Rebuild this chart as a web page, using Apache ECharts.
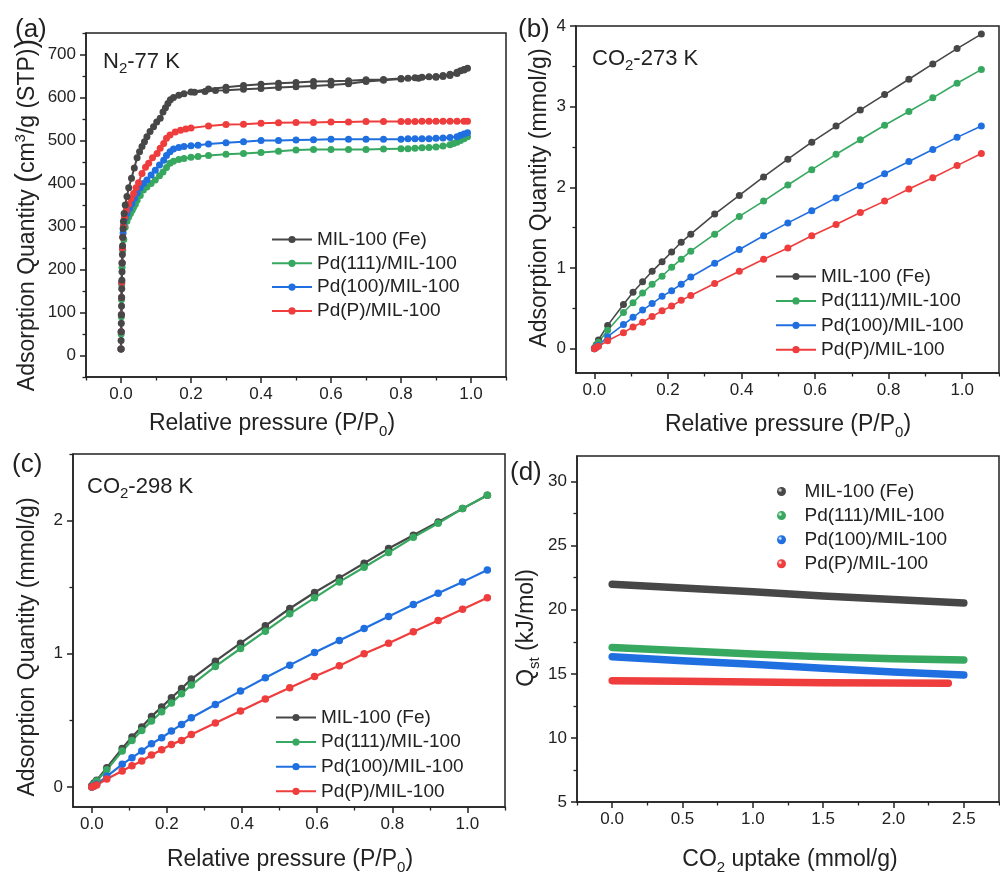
<!DOCTYPE html>
<html><head><meta charset="utf-8">
<script src="https://cdn.jsdelivr.net/npm/echarts@6/dist/echarts.min.js"></script>
<style>html,body{margin:0;padding:0;background:#fff}#c{width:1000px;height:875px}</style>
</head><body><div id="c"></div>
<script>
const names = ['MIL-100 (Fe)', 'Pd(111)/MIL-100', 'Pd(100)/MIL-100', 'Pd(P)/MIL-100'];
const colors = ['#474747', '#37a85f', '#1f6fe0', '#ef3c3c'];

// ---- (a) N2 77 K ----
const a_mil_ads_x = [0,0.0003,0.0006,0.0009,0.0012,0.0015,0.0018,0.0021,0.0025,0.003,0.0035,0.004,0.0045,0.005,0.006,0.007,0.009,0.012,0.017,0.022,0.03,0.038,0.046,0.053,0.06,0.067,0.074,0.083,0.093,0.102,0.112,0.12,0.127,0.134,0.141,0.15,0.165,0.18,0.2,0.25,0.3,0.35,0.4,0.45,0.5,0.55,0.6,0.65,0.7,0.75,0.8,0.82,0.84,0.86,0.88,0.9,0.92,0.94,0.96,0.97,0.98,0.99];
const a_mil_ads_y = [15,35,55,75,95,115,135,155,175,195,215,235,255,275,295,312,330,350,370,390,412,436,460,474,486,497,509,521,532,543,552,566,576,586,595,600,605,609,613,620,624,628,631,633,635,637,638,639,641,642,644,645,646,647,648,649,651,654,659,662,665,668];
const a_mil_des_x = [0.98,0.96,0.94,0.92,0.9,0.85,0.8,0.75,0.7,0.65,0.6,0.55,0.5,0.45,0.4,0.35,0.3,0.27,0.24,0.21];
const a_mil_des_y = [664,656,651,649,647,645,643,640,637,632,629,627,625,623,621,619,617,616,614,612];
const a_p111_x = [0,0.0005,0.001,0.0015,0.002,0.003,0.005,0.008,0.012,0.017,0.022,0.027,0.032,0.036,0.041,0.046,0.055,0.064,0.074,0.086,0.098,0.11,0.12,0.13,0.14,0.15,0.165,0.18,0.2,0.22,0.25,0.3,0.35,0.4,0.45,0.5,0.55,0.6,0.65,0.7,0.75,0.8,0.82,0.84,0.86,0.88,0.9,0.92,0.94,0.95,0.96,0.97,0.98,0.99];
const a_p111_y = [15,50,90,130,165,205,245,270,298,312,322,330,338,345,352,361,372,385,392,400,408,418,427,437,447,452,456,458,461,463,465,468,470,472,475,478,479,479,479,479,480,481,481,482,483,484,485,487,490,493,496,500,504,509];
const a_p100_x = [0,0.0005,0.001,0.0015,0.002,0.003,0.004,0.006,0.008,0.012,0.017,0.024,0.031,0.038,0.046,0.055,0.064,0.074,0.086,0.098,0.11,0.122,0.13,0.14,0.15,0.165,0.18,0.2,0.22,0.25,0.3,0.35,0.4,0.45,0.5,0.55,0.6,0.65,0.7,0.75,0.8,0.82,0.84,0.86,0.88,0.9,0.92,0.94,0.96,0.97,0.98,0.99];
const a_p100_y = [15,55,95,135,170,215,250,285,305,320,330,342,353,365,378,390,400,408,420,431,443,454,465,474,480,484,486,488,489,492,495,497,500,500,501,502,503,503,503,503,503,504,504,504,504,505,506,507,509,512,515,518];
const a_pp_x = [0,0.0005,0.001,0.0015,0.002,0.003,0.004,0.005,0.007,0.01,0.015,0.022,0.029,0.036,0.043,0.05,0.06,0.07,0.079,0.09,0.103,0.112,0.122,0.13,0.14,0.155,0.17,0.185,0.2,0.25,0.3,0.35,0.4,0.45,0.5,0.55,0.6,0.65,0.7,0.75,0.8,0.82,0.84,0.86,0.88,0.9,0.92,0.94,0.96,0.98,0.99];
const a_pp_y = [15,55,95,135,170,215,250,275,300,322,338,352,365,377,390,402,423,438,447,460,470,482,493,505,513,520,524,527,529,534,537,538,540,541,542,542,543,543,544,544,544,544,544,545,545,545,545,545,545,545,545];

// ---- (b) CO2 273 K ----
const b_x = [0,0.005,0.011,0.036,0.079,0.105,0.131,0.157,0.184,0.21,0.236,0.262,0.327,0.394,0.46,0.526,0.591,0.657,0.723,0.789,0.855,0.92,0.986,1.052];
const b_mil = [0.01,0.05,0.11,0.29,0.55,0.70,0.83,0.96,1.08,1.20,1.32,1.42,1.67,1.90,2.13,2.35,2.56,2.76,2.96,3.15,3.34,3.53,3.72,3.90];
const b_p111 = [0.0,0.04,0.08,0.23,0.45,0.57,0.69,0.80,0.90,1.01,1.11,1.21,1.42,1.64,1.83,2.03,2.22,2.41,2.59,2.77,2.94,3.11,3.29,3.46];
const b_p100 = [0.0,0.02,0.04,0.15,0.30,0.39,0.48,0.56,0.65,0.72,0.80,0.89,1.06,1.23,1.40,1.56,1.71,1.87,2.02,2.17,2.32,2.47,2.62,2.76];
const b_pp = [0.0,0.015,0.03,0.10,0.20,0.27,0.33,0.40,0.47,0.53,0.60,0.66,0.81,0.96,1.11,1.25,1.40,1.54,1.69,1.83,1.98,2.12,2.27,2.42];

// ---- (c) CO2 298 K ----
const c_x = [0,0.006,0.013,0.04,0.081,0.107,0.133,0.159,0.186,0.212,0.239,0.265,0.329,0.396,0.462,0.527,0.593,0.659,0.725,0.79,0.856,0.922,0.987,1.053];
const c_mil = [0.01,0.03,0.05,0.145,0.29,0.375,0.45,0.53,0.60,0.67,0.74,0.81,0.945,1.08,1.21,1.34,1.46,1.57,1.68,1.79,1.89,1.99,2.09,2.19];
const c_p111 = [0.0,0.02,0.045,0.13,0.27,0.35,0.425,0.495,0.565,0.63,0.70,0.765,0.905,1.04,1.17,1.30,1.42,1.54,1.65,1.76,1.875,1.98,2.09,2.19];
const c_p100 = [0.0,0.01,0.02,0.08,0.17,0.22,0.27,0.325,0.37,0.42,0.47,0.52,0.62,0.72,0.82,0.915,1.01,1.10,1.19,1.28,1.37,1.455,1.54,1.63];
const c_pp = [0.0,0.005,0.015,0.06,0.12,0.16,0.195,0.24,0.28,0.32,0.35,0.395,0.48,0.57,0.66,0.745,0.83,0.91,1.0,1.08,1.165,1.25,1.335,1.42];

// ---- (d) Qst ----
const d_x = [0,0.5,1.0,1.5,2.0,2.5];
const d_x_pp = [0,0.5,1.0,1.5,2.0,2.39];
const d_mil = [22.0,21.7,21.4,21.08,20.8,20.52];
const d_p111 = [17.06,16.8,16.54,16.34,16.18,16.08];
const d_p100 = [16.34,16.02,15.74,15.43,15.14,14.91];
const d_pp = [14.47,14.42,14.36,14.31,14.29,14.26];

// tick values
const a_xMaj = [0,0.2,0.4,0.6,0.8,1.0], a_xMin = [-0.1,0.1,0.3,0.5,0.7,0.9,1.1];
const a_yMaj = [0,100,200,300,400,500,600,700], a_yMin = [-50,50,150,250,350,450,550,650,750];
const bc_xMaj = [0,0.2,0.4,0.6,0.8,1.0], bc_xMin = [0.1,0.3,0.5,0.7,0.9,1.1];
const b_yMaj = [0,1,2,3,4], b_yMin = [0.5,1.5,2.5,3.5];
const c_yMaj = [0,1,2], c_yMin = [0.5,1.5,2.5];
const d_xMaj = [0,0.5,1.0,1.5,2.0,2.5], d_xMin = [-0.25,0.25,0.75,1.25,1.75,2.25,2.75];
const d_yMaj = [5,10,15,20,25,30], d_yMin = [7.5,12.5,17.5,22.5,27.5];

const FONT = '"Liberation Sans", Arial, sans-serif';
const INK = '#222';
const zip = (xs, ys) => xs.map((x, i) => [x, ys[i]]);
const f1 = v => (+v).toFixed(1);
const f0 = v => String(Math.round(v));

// three axes per dimension: [main with labels, major ticks, minor ticks]
function axisTriple(dim, grid, min, max, maj, mnr, fmt) {
  const base = () => ({
    type: 'value', gridIndex: grid, min: min, max: max,
    position: dim === 'x' ? 'bottom' : 'left',
    splitLine: {show: false}, splitArea: {show: false},
    axisLine: {show: false, onZero: false}
  });
  const main = Object.assign(base(), {
    axisLine: {show: true, onZero: false, lineStyle: {color: INK, width: 1.5}},
    axisTick: {show: false},
    axisLabel: {show: true, customValues: maj, formatter: fmt, color: INK, fontSize: 17,
      fontFamily: FONT, margin: dim === 'x' ? 9 : 10}
  });
  const major = Object.assign(base(), {
    axisTick: {show: true, customValues: maj, length: 6, lineStyle: {color: INK, width: 1.5}},
    axisLabel: {show: false}
  });
  const minor = Object.assign(base(), {
    axisTick: {show: true, customValues: mnr, length: 3.5, lineStyle: {color: INK, width: 1.3}},
    axisLabel: {show: false}
  });
  return [main, major, minor];
}

const grids = [
  {left: 86, top: 33, width: 420, height: 344},
  {left: 576, top: 26, width: 423, height: 347},
  {left: 73, top: 454, width: 432, height: 353},
  {left: 577, top: 456, width: 422, height: 346}
].map(g => Object.assign(g, {show: true, borderColor: INK, borderWidth: 1.5, backgroundColor: 'transparent', outerBoundsMode: 'none', containLabel: false}));

const xAxis = [].concat(
  axisTriple('x', 0, -0.1, 1.1, a_xMaj, a_xMin, f1),
  axisTriple('x', 1, -0.05, 1.1, bc_xMaj, bc_xMin, f1),
  axisTriple('x', 2, -0.05, 1.1, bc_xMaj, bc_xMin, f1),
  axisTriple('x', 3, -0.25, 2.75, d_xMaj, d_xMin, f1)
);
const yAxis = [].concat(
  axisTriple('y', 0, -50, 750, a_yMaj, a_yMin, f0),
  axisTriple('y', 1, -0.3, 4, b_yMaj, b_yMin, f0),
  axisTriple('y', 2, -0.15, 2.5, c_yMaj, c_yMin, f0),
  axisTriple('y', 3, 5, 32, d_yMaj, d_yMin, f0)
);

function lineSeries(name, color, data, g, size, width) {
  return {
    type: 'line', name: name, xAxisIndex: 3 * g, yAxisIndex: 3 * g, data: data,
    symbol: 'circle', symbolSize: size, showSymbol: true, showAllSymbol: true,
    itemStyle: {color: color}, lineStyle: {color: color, width: width},
    emphasis: {disabled: true}, animation: false, z: 2
  };
}
function thickSeries(name, color, data, g) {
  return {
    type: 'line', name: name, xAxisIndex: 3 * g, yAxisIndex: 3 * g, data: data,
    symbol: 'none', itemStyle: {color: color},
    lineStyle: {color: color, width: 7.5, cap: 'round', join: 'round'},
    emphasis: {disabled: true}, animation: false, z: 2
  };
}

const series = [
  // (a) – grey drawn last so it lies on top of the steep rise
  lineSeries(names[1], colors[1], zip(a_p111_x, a_p111_y), 0, 7, 2),
  lineSeries(names[2], colors[2], zip(a_p100_x, a_p100_y), 0, 7, 2),
  lineSeries(names[3], colors[3], zip(a_pp_x, a_pp_y), 0, 7, 2),
  lineSeries(names[0], colors[0], zip(a_mil_ads_x, a_mil_ads_y).concat(zip(a_mil_des_x, a_mil_des_y)), 0, 7, 2),
  // (b)
  lineSeries(names[0], colors[0], zip(b_x, b_mil), 1, 7, 1.6),
  lineSeries(names[1], colors[1], zip(b_x, b_p111), 1, 7, 1.6),
  lineSeries(names[2], colors[2], zip(b_x, b_p100), 1, 7, 1.6),
  lineSeries(names[3], colors[3], zip(b_x, b_pp), 1, 7, 1.6),
  // (c)
  lineSeries(names[0], colors[0], zip(c_x, c_mil), 2, 7.5, 2.2),
  lineSeries(names[1], colors[1], zip(c_x, c_p111), 2, 7.5, 2.2),
  lineSeries(names[2], colors[2], zip(c_x, c_p100), 2, 7.5, 2.2),
  lineSeries(names[3], colors[3], zip(c_x, c_pp), 2, 7.5, 2.2),
  // (d)
  thickSeries(names[0], colors[0], zip(d_x, d_mil), 3),
  thickSeries(names[1], colors[1], zip(d_x, d_p111), 3),
  thickSeries(names[2], colors[2], zip(d_x, d_p100), 3),
  thickSeries(names[3], colors[3], zip(d_x_pp, d_pp), 3)
];

function lineLegend(left, top, gap) {
  return {
    orient: 'vertical', left: left, top: top, padding: 0, itemGap: gap,
    itemWidth: 40, itemHeight: 9, selectedMode: false,
    textStyle: {fontSize: 19, fontFamily: FONT, color: INK, lineHeight: 19},
    data: names.slice()
  };
}
function sphere(c) {
  return {type: 'radial', x: 0.35, y: 0.35, r: 0.75,
    colorStops: [{offset: 0, color: '#ffffff'}, {offset: 0.35, color: c}, {offset: 1, color: c}]};
}
const legends = [
  lineLegend(271, 230, 4.8),
  lineLegend(775, 267, 5.4),
  lineLegend(275, 708, 5.6),
  {
    orient: 'vertical', left: 777, top: 482, padding: 0, itemGap: 5.1,
    itemWidth: 36, itemHeight: 9, selectedMode: false, symbolKeepAspect: true,
    textStyle: {fontSize: 19, fontFamily: FONT, color: INK, lineHeight: 19},
    data: names.map((n, i) => ({name: n, icon: 'circle', itemStyle: {color: sphere(colors[i])}}))
  }
];

function txt(x, y, text, rich, opt) {
  opt = opt || {};
  return {
    type: 'text', x: x, y: y, rotation: opt.rot || 0, silent: true,
    style: {text: text, rich: rich, fill: INK, fontFamily: FONT,
      align: opt.align || 'center', verticalAlign: 'middle'}
  };
}
const R = {
  a: {fontSize: 23, fontFamily: FONT, color: INK, lineHeight: 30},
  p: {fontSize: 29, fontFamily: FONT, color: INK, lineHeight: 30},
  sup: {fontSize: 15, fontFamily: FONT, color: INK, lineHeight: 15, verticalAlign: 'top'},
  sub: {fontSize: 15, fontFamily: FONT, color: INK, lineHeight: 15, verticalAlign: 'bottom'},
  n: {fontSize: 22, fontFamily: FONT, color: INK, lineHeight: 28},
  ns: {fontSize: 15, fontFamily: FONT, color: INK, lineHeight: 15, verticalAlign: 'bottom'},
  L: {fontSize: 26, fontFamily: FONT, color: INK, lineHeight: 30}
};
const V = Math.PI / 2;
const graphic = [
  // panel letters
  txt(15, 30, '{L|(a)}', R, {align: 'left'}),
  txt(518, 30, '{L|(b)}', R, {align: 'left'}),
  txt(12, 465, '{L|(c)}', R, {align: 'left'}),
  txt(510, 473, '{L|(d)}', R, {align: 'left'}),
  // annotations
  txt(103, 62, '{n|N}{ns|2}{n|-77 K}', R, {align: 'left'}),
  txt(592, 59, '{n|CO}{ns|2}{n|-273 K}', R, {align: 'left'}),
  txt(87, 487, '{n|CO}{ns|2}{n|-298 K}', R, {align: 'left'}),
  // x titles
  txt(272, 424, '{a|Relative pressure (P/P}{sub|0}{a|)}', R),
  txt(788, 425, '{a|Relative pressure (P/P}{sub|0}{a|)}', R),
  txt(290, 860, '{a|Relative pressure (P/P}{sub|0}{a|)}', R),
  txt(790, 860, '{a|CO}{sub|2}{a| uptake (mmol/g)}', R),
  // y titles
  txt(28, 215, '{a|Adsorption Quantity }{p|(}{a|cm}{sup|3}{a|/g (STP)}{p|)}', R, {rot: V}),
  txt(540, 198, '{a|Adsorption Quantity (mmol/g)}', R, {rot: V}),
  txt(28, 647, '{a|Adsorption Quantity (mmol/g)}', R, {rot: V}),
  txt(527, 628, '{a|Q}{sub|st}{a| (kJ/mol)}', R, {rot: V})
];

const chart = echarts.init(document.getElementById('c'), null, {renderer: 'canvas', width: 1000, height: 875});
chart.setOption({
  backgroundColor: '#ffffff',
  animation: false,
  textStyle: {fontFamily: FONT},
  grid: grids, xAxis: xAxis, yAxis: yAxis,
  legend: legends, series: series, graphic: graphic
});
</script>
</body></html>
